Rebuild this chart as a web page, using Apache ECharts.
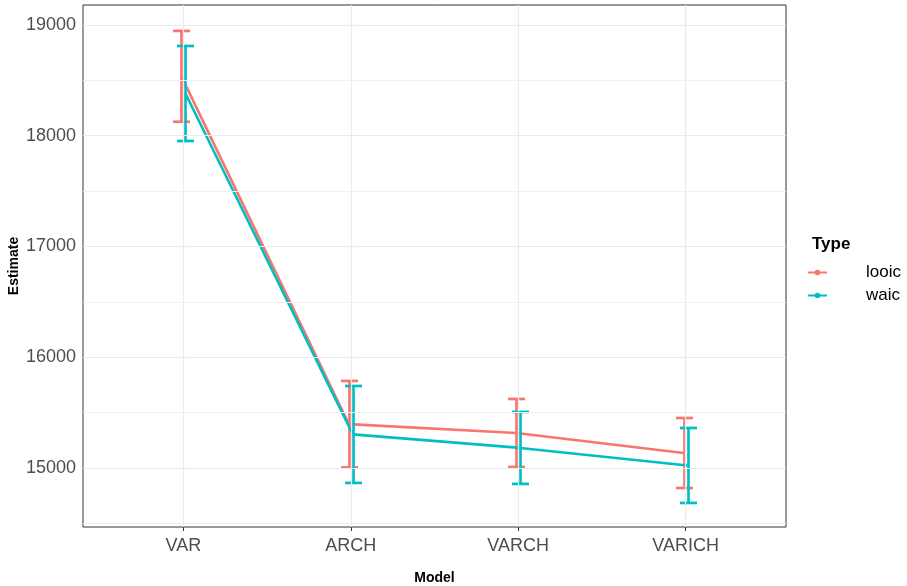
<!DOCTYPE html>
<html>
<head>
  <meta charset="utf-8">
  <script src="https://cdn.jsdelivr.net/npm/echarts@6/dist/echarts.min.js"></script>
  <style>
    html, body { margin: 0; padding: 0; background: #fff; }
    #chart { width: 907px; height: 586px; }
  </style>
</head>
<body>
  <div id="chart"></div>
  <script>
    // values
    var categories = ['VAR', 'ARCH', 'VARCH', 'VARICH'];
    var looicEst  = [18536, 15396, 15316, 15135];
    var looicLow  = [18126, 15005, 15009, 14819];
    var looicHigh = [18946, 15786, 15623, 15451];
    var waicEst   = [18381, 15303, 15181, 15023];
    var waicLow   = [17952, 14865, 14856, 14684];
    var waicHigh  = [18810, 15740, 15506, 15361];
    var yTicks = [15000, 16000, 17000, 18000, 19000];
    var yMinor = [14500, 15500, 16500, 17500, 18500];

    var colLooic = '#F8766D', colWaic = '#00BFC4';
    var dodge = 0.012;
    var font = 'Liberation Sans, Arial, sans-serif';

    function linePts(est, off) {
      return est.map(function (v, i) { return [i + off, v]; });
    }
    function barPts(low, high, off) {
      return low.map(function (v, i) { return [i + off, v, high[i]]; });
    }
    function errRender(color) {
      return function (params, api) {
        var x = api.value(0);
        var lo = api.coord([x, api.value(1)]);
        var hi = api.coord([x, api.value(2)]);
        var px = Math.round(lo[0]) + 0.5;
        var w = 8.5;
        var st = { stroke: color, lineWidth: 2.7, fill: null };
        return {
          type: 'group',
          children: [
            { type: 'line', shape: { x1: px, y1: lo[1], x2: px, y2: hi[1] }, style: st },
            { type: 'line', shape: { x1: px - w, y1: hi[1], x2: px + w, y2: hi[1] }, style: st },
            { type: 'line', shape: { x1: px - w, y1: lo[1], x2: px + w, y2: lo[1] }, style: st }
          ]
        };
      };
    }

    var chart = echarts.init(document.getElementById('chart'));
    chart.setOption({
      animation: false,
      title: {
        text: 'Type', left: 807, top: 231,
        textStyle: { fontFamily: font, fontWeight: 'bold', fontSize: 17, color: '#000' }
      },
      legend: {
        orient: 'vertical', left: 802, top: 259, itemGap: 6,
        itemWidth: 19, itemHeight: 7,
        data: ['looic', 'waic'],
        textStyle: { fontFamily: font, fontSize: 17, color: '#000', padding: [0, 0, 0, 34] }
      },
      grid: {
        left: 83, right: 121, top: 5, bottom: 59, outerBoundsMode: 'none', containLabel: false,
        show: true, borderColor: '#333', borderWidth: 1, backgroundColor: '#fff'
      },
      xAxis: {
        type: 'value', min: -0.6, max: 3.6,
        name: 'Model', nameLocation: 'middle', nameGap: 44, nameMoveOverlap: false,
        nameTextStyle: { fontFamily: font, fontWeight: 'bold', fontSize: 14, color: '#000' },
        axisLine: { show: false },
        axisTick: { show: true, length: 4, customValues: [0, 1, 2, 3], lineStyle: { color: '#333' } },
        axisLabel: {
          customValues: [0, 1, 2, 3], margin: 10,
          fontFamily: font, fontSize: 18, color: '#4d4d4d',
          formatter: function (v) { return categories[Math.round(v)]; }
        },
        splitLine: { show: false }
      },
      yAxis: {
        type: 'value', min: 14467, max: 19180,
        name: 'Estimate', nameLocation: 'middle', nameGap: 62, nameMoveOverlap: false,
        nameTextStyle: { fontFamily: font, fontWeight: 'bold', fontSize: 14, color: '#000' },
        axisLine: { show: false },
        axisTick: { show: true, length: 4, customValues: yTicks, lineStyle: { color: '#333' } },
        axisLabel: {
          customValues: yTicks, margin: 7,
          fontFamily: font, fontSize: 18, color: '#4d4d4d',
          formatter: function (v) { return String(v); }
        },
        splitLine: { show: false }
      },
      series: [
        {
          name: 'grid', type: 'line', data: [], silent: true,
          markLine: {
            silent: true, symbol: 'none', label: { show: false }, animation: false,
            data: yMinor.map(function (v) { return { yAxis: v, lineStyle: { color: '#f0f0f0', width: 1, type: 'solid' } }; })
              .concat(yTicks.map(function (v) { return { yAxis: v, lineStyle: { color: '#ebebeb', width: 1.2, type: 'solid' } }; }))
              .concat(categories.map(function (c, i) { return { xAxis: i, lineStyle: { color: '#ebebeb', width: 1.2, type: 'solid' } }; }))
          }
        },
        {
          name: 'looic', type: 'line', data: linePts(looicEst, -dodge),
          symbol: 'circle', symbolSize: 6, showSymbol: false,
          lineStyle: { color: colLooic, width: 2.6 }, itemStyle: { color: colLooic }, z: 3
        },
        {
          name: 'waic', type: 'line', data: linePts(waicEst, dodge),
          symbol: 'circle', symbolSize: 6, showSymbol: false,
          lineStyle: { color: colWaic, width: 2.6 }, itemStyle: { color: colWaic }, z: 4
        },
        {
          name: 'looic', type: 'custom', renderItem: errRender(colLooic),
          data: barPts(looicLow, looicHigh, -dodge), encode: { x: 0, y: [1, 2] }, z: 3
        },
        {
          name: 'waic', type: 'custom', renderItem: errRender(colWaic),
          data: barPts(waicLow, waicHigh, dodge), encode: { x: 0, y: [1, 2] }, z: 4
        }
      ]
    });
  </script>
</body>
</html>
